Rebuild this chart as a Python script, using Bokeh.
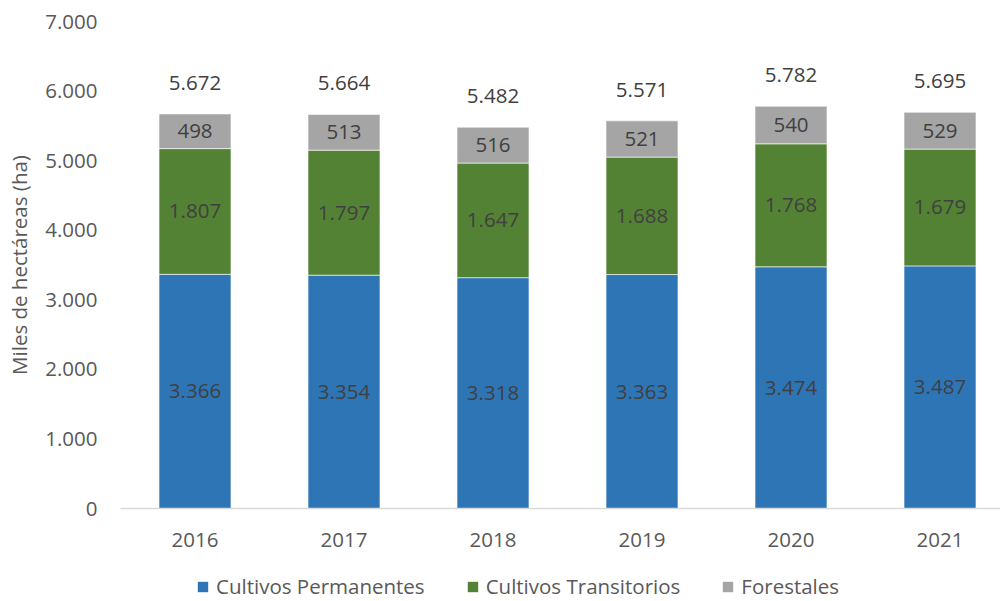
from bokeh.plotting import figure
from bokeh.layouts import column
from bokeh.models import ColumnDataSource, FixedTicker, Legend, LegendItem, Range1d, CustomJSTickFormatter
from bokeh.core.properties import value
from bokeh.embed import file_html
from bokeh.resources import INLINE

years = ["2016", "2017", "2018", "2019", "2020", "2021"]
permanentes = [3366, 3354, 3318, 3363, 3474, 3487]
transitorios = [1807, 1797, 1647, 1688, 1768, 1679]
forestales = [498, 513, 516, 521, 540, 529]
totales = [5672, 5664, 5482, 5571, 5782, 5695]
y_ticks = [0, 1000, 2000, 3000, 4000, 5000, 6000, 7000]
series_names = ["Cultivos Permanentes", "Cultivos Transitorios", "Forestales"]

FONT = "Open Sans"
FS = "20.5px"
COLORS = ["#2E75B6", "#548235", "#A5A5A5"]

def fmt(v):
    return f"{v:,}".replace(",", ".")

xs = list(range(len(years)))
src = ColumnDataSource(dict(
    x=xs,
    perm=permanentes, trans=transitorios, fore=forestales,
    perm_mid=[p / 2 for p in permanentes],
    trans_mid=[p + t / 2 for p, t in zip(permanentes, transitorios)],
    fore_mid=[p + t + f / 2 for p, t, f in zip(permanentes, transitorios, forestales)],
    tot_y=[p + t + f for p, t, f in zip(permanentes, transitorios, forestales)],
    perm_lbl=[fmt(v) for v in permanentes],
    trans_lbl=[fmt(v) for v in transitorios],
    fore_lbl=[fmt(v) for v in forestales],
    tot_lbl=[fmt(v) for v in totales],
))

p = figure(width=1000, height=560, output_backend="svg", toolbar_location=None,
           x_range=Range1d(-0.5, 5.406), y_range=Range1d(0, 7000),
           min_border_left=120, min_border_right=0, min_border_top=21, min_border_bottom=52)
p.outline_line_color = None
p.grid.visible = False

r = p.vbar_stack(["perm", "trans", "fore"], x="x", width=0.483, source=src,
                 color=COLORS, line_color="white", line_width=0.6)

for ycol, lcol in [("perm_mid", "perm_lbl"), ("trans_mid", "trans_lbl"), ("fore_mid", "fore_lbl")]:
    p.text(x="x", y=ycol, text=lcol, source=src, text_align="center", text_baseline="middle",
           text_font=value(FONT), text_font_size=FS, text_color="#404040")
p.text(x="x", y="tot_y", text="tot_lbl", source=src, text_align="center", text_baseline="middle",
       y_offset=-31, text_font=value(FONT), text_font_size=FS, text_color="#404040")

# axes
p.xaxis.ticker = FixedTicker(ticks=xs)
p.xaxis.major_label_overrides = {i: y for i, y in enumerate(years)}
p.xaxis.axis_line_color = "#D9D9D9"
p.xaxis.axis_line_width = 1.5
p.xaxis.major_tick_line_color = None
p.xaxis.minor_tick_line_color = None
p.xaxis.major_tick_out = 0
p.xaxis.major_tick_in = 0
p.xaxis.major_label_standoff = 24
p.xaxis.major_label_text_font = FONT
p.xaxis.major_label_text_font_size = FS
p.xaxis.major_label_text_color = "#595959"

p.yaxis.ticker = FixedTicker(ticks=y_ticks)
p.yaxis.formatter = CustomJSTickFormatter(code="return tick.toLocaleString('en-US').replace(/,/g, '.');")
p.yaxis.axis_line_color = None
p.yaxis.major_tick_line_color = None
p.yaxis.minor_tick_line_color = None
p.yaxis.major_tick_out = 0
p.yaxis.major_tick_in = 0
p.yaxis.major_label_standoff = 23
p.yaxis.major_label_text_font = FONT
p.yaxis.major_label_text_font_size = FS
p.yaxis.major_label_text_color = "#595959"
p.yaxis.axis_label = "Miles de hectáreas (ha)"
p.yaxis.axis_label_text_font = FONT
p.yaxis.axis_label_text_font_size = FS
p.yaxis.axis_label_text_font_style = "normal"
p.yaxis.axis_label_text_color = "#595959"
p.yaxis.axis_label_standoff = 9

# legend strip below the chart
lg = figure(width=1000, height=40, output_backend="svg", toolbar_location=None,
            x_range=Range1d(0, 1), y_range=Range1d(0, 1), x_axis_type=None, y_axis_type=None,
            min_border_left=120, min_border_right=0, min_border_top=0, min_border_bottom=0)
lg.outline_line_color = None
lg.grid.visible = False
items = []
for name, c in zip(series_names, COLORS):
    rr = lg.vbar(x=[0.5], top=[0], bottom=[0], width=0.1, fill_color=c, line_color=None)
    items.append(LegendItem(label=name, renderers=[rr]))
legend = Legend(items=items, orientation="horizontal", location=(76, 0), padding=0, margin=0,
                spacing=41, glyph_width=13, glyph_height=13, label_standoff=7, label_height=20,
                label_text_font=FONT, label_text_font_size=FS, label_text_color="#595959",
                label_text_baseline="middle",
                border_line_color=None, background_fill_alpha=0)
lg.add_layout(legend, "center")

layout = column(p, lg, spacing=0)
open("out.html", "w").write(file_html(layout, INLINE))
